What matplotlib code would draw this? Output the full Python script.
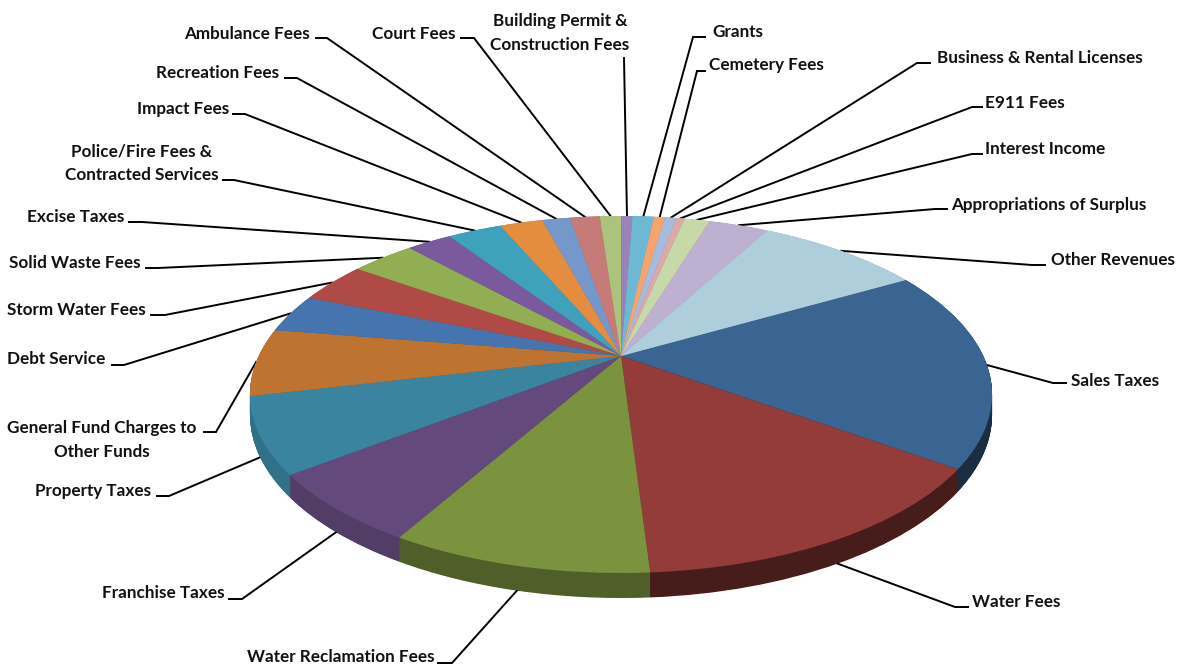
import numpy as np
import matplotlib
matplotlib.use("Agg")
import matplotlib.pyplot as plt
from matplotlib.colors import to_rgb
from matplotlib.transforms import Transform

plt.rcParams['font.family'] = ['Lato', 'DejaVu Sans']

# share of revenue by source, percent, clockwise
categories = ["Sales Taxes", "Water Fees", "Water Reclamation Fees", "Franchise Taxes",
              "Property Taxes", "General Fund Charges to\nOther Funds", "Debt Service",
              "Storm Water Fees", "Solid Waste Fees", "Excise Taxes",
              "Police/Fire Fees &\nContracted Services", "Impact Fees", "Recreation Fees",
              "Ambulance Fees", "Court Fees", "Building Permit &\nConstruction Fees", "Grants",
              "Cemetery Fees", "Business & Rental Licenses", "E911 Fees", "Interest Income",
              "Appropriations of Surplus", "Other Revenues"]
shares = [18.1, 14.1, 9.3, 6.3, 6.8, 6.1, 3.5, 3.75, 3.4, 2.4, 2.9, 2.3, 1.5, 1.6, 1.15,
          0.6, 1.15, 0.6, 0.6, 0.45, 1.35, 3.2, 8.8]
colors = ["#3A6491", "#943C3A", "#7B923F", "#644A7C", "#3A849F", "#BF7330", "#4674AE",
          "#B04A47", "#92AE52", "#7A5A9C", "#3FA2BD", "#E48C3F", "#7597C9", "#C67B79",
          "#ABC37C", "#9A83B9", "#6DB9D3", "#F4A46C", "#A6BBDD", "#DBA9A8", "#C7D8A9",
          "#BEB0D0", "#AECEDC"]
# how dark the rim of each slice gets
rim_shade = [0.45, 0.48, 0.65, 0.82, 0.85] + [0.8] * 18

# label placement: anchor, alignment, then the short horizontal tail of each leader
label_x = [1071, 972, 435, 225, 151, 102, 105, 146, 141, 124, 142, 229, 279, 310, 456, 560,
           712, 709, 937, 985, 985, 951, 1051]
label_y = [381, 602, 657, 593, 491, 440, 359, 310, 263, 217, 163, 109, 73, 34, 34, 33,
           32, 65, 58, 103, 149, 205, 260]
label_ha = ["left", "left", "right", "right", "right", "center", "right", "right", "right",
            "right", "center", "right", "right", "right", "right", "center",
            "left", "left", "left", "left", "left", "left", "left"]
tail_start = [(1053, 383), (955, 607), (452, 663), (242, 599), (169, 496), (216, 432),
              (124, 365), (165, 315), (158, 268), (142, 222), (234, 180), (245, 114),
              (297, 78), (327, 38), (474, 38), (624, 58), (693, 37), (697, 71),
              (917, 63), (972, 107), (972, 154), (935, 209), (1032, 265)]
tail_end = [(1066, 383), (968, 607), (438, 663), (229, 599), (157, 496), (204, 432),
            (112, 365), (151, 315), (146, 268), (129, 222), (223, 180), (233, 114),
            (285, 78), (316, 38), (461, 38), (624, 58), (705, 37), (705, 71),
            (930, 63), (982, 107), (982, 154), (947, 209), (1045, 265)]

APEX_X, APEX_Y = 621, 356
SCALE_X, SCALE_Y, TILT = 362.3, 170.2, 0.2157
THICKNESS = 19.6


class TiltedDisc(Transform):
    """Perspective view of a unit disc, result in figure pixels (y down)."""
    input_dims = 2
    output_dims = 2
    is_separable = False

    def __init__(self, drop=0.0):
        super().__init__()
        self.drop = drop

    def transform_non_affine(self, values):
        values = np.asarray(values)
        w = 1 + TILT * values[:, 1]
        px = APEX_X + SCALE_X * values[:, 0] / w
        py = APEX_Y - SCALE_Y * values[:, 1] / w + self.drop / w
        return np.column_stack([px, py])


fig = plt.figure(figsize=(11.81, 6.66), dpi=100)
ax = fig.add_axes([0, 0, 1, 1])

# rim: stack of darker pies going down from the top face
for z, drop in enumerate(np.arange(THICKNESS, 0, -0.5)):
    rim_colors = [tuple(c * s for c in to_rgb(col)) for col, s in zip(colors, rim_shade)]
    layer, _ = ax.pie(shares, colors=rim_colors, startangle=29.6, counterclock=False,
                      wedgeprops=dict(linewidth=0))
    for w in layer:
        w.set_transform(TiltedDisc(drop) + ax.transData)
        w.set_zorder(1 + z * 0.01)

wedges, _ = ax.pie(shares, colors=colors, startangle=29.6, counterclock=False,
                   wedgeprops=dict(linewidth=0))
top = TiltedDisc()
for w in wedges:
    w.set_transform(top + ax.transData)
    w.set_zorder(2)

ax.set_aspect('auto')
ax.set_xlim(0, 1181)
ax.set_ylim(666, 0)
ax.axis('off')

# the front slices carry their leader on the lower edge of the rim
front = {"Water Fees", "Water Reclamation Fees", "Franchise Taxes", "Property Taxes"}
for i, w in enumerate(wedges):
    mid = np.deg2rad((w.theta1 + w.theta2) / 2)
    drop = THICKNESS if categories[i] in front else 0
    start = TiltedDisc(drop).transform_non_affine(np.array([[np.cos(mid), np.sin(mid)]]))[0]
    ax.plot([start[0], tail_start[i][0], tail_end[i][0]],
            [start[1], tail_start[i][1], tail_end[i][1]],
            color='black', lw=1.4, zorder=1, solid_joinstyle='miter')
    ax.text(label_x[i], label_y[i], categories[i], ha=label_ha[i], va='center',
            fontsize=12.3, fontweight='bold', color='#111111', linespacing=1.55)

fig.savefig("out.png", dpi=100)
